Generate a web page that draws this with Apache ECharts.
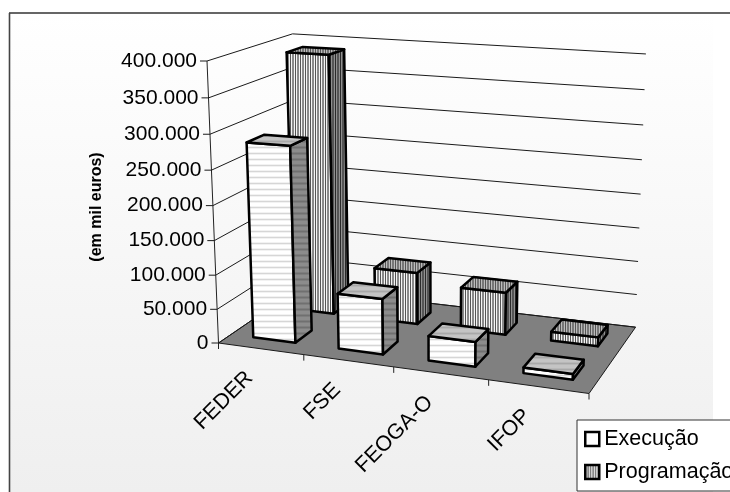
<!DOCTYPE html>
<html>
<head>
<meta charset="utf-8">
<style>html,body{margin:0;padding:0;background:#fff}#chart{width:730px;height:492px}</style>
<script src="https://cdn.jsdelivr.net/npm/echarts@6/dist/echarts.min.js"></script>
</head>
<body>
<div id="chart"></div>
<script>
const categories = ['FEDER', 'FSE', 'FEOGA-O', 'IFOP'];
const execucao = [283000, 80000, 35000, 8000];
const programacao = [388000, 78000, 63000, 13000];
const yTicks = [0, 50000, 100000, 150000, 200000, 250000, 300000, 350000, 400000];
const yTickLabels = ['0', '50.000', '100.000', '150.000', '200.000', '250.000', '300.000', '350.000', '400.000'];

const FONT = '"Liberation Sans", Arial, sans-serif';

// Perspective box: images of the box corners and their homogeneous weights.
const CAM = {
  origin: [218.5, 343], right: [589, 393.5], deep: [299, 288], up: [207, 61],
  wRight: 0.8973, wDeep: 1.115, wUp: 0.95, farSag: 6
};
function project(u, d, h) {
  const den = 1 + u * (CAM.wRight - 1) + d * (CAM.wDeep - 1) + h * (CAM.wUp - 1);
  const p = [0, 1].map(function (k) {
    const o = CAM.origin[k];
    return (o + u * (CAM.wRight * CAM.right[k] - o) + d * (CAM.wDeep * CAM.deep[k] - o) + h * (CAM.wUp * CAM.up[k] - o)) / den;
  });
  // The far upper corner of the box sits a little lower than a pure projection.
  p[1] += CAM.farSag * u * d * h;
  return p;
}
// Turns axis pixel positions into box coordinates, so scales stay owned by the axes.
function boxFromAxes(params, api, cat, val) {
  const p = api.coord([cat, val]);
  const c = params.coordSys;
  return { u: (p[0] - c.x) / c.width, h: (c.y + c.height - p[1]) / c.height };
}

function stripes(colors, vertical) {
  const cv = document.createElement('canvas');
  cv.width = vertical ? colors.length : 1;
  cv.height = vertical ? 1 : colors.length;
  const g = cv.getContext('2d');
  colors.forEach(function (col, i) {
    g.fillStyle = col;
    if (vertical) g.fillRect(i, 0, 1, 1); else g.fillRect(0, i, 1, 1);
  });
  return { image: cv, repeat: 'repeat' };
}

const FILLS = {
  exec: {
    front: stripes(['#fff', '#fff', '#f2f2f2', '#d6d6d6', '#f2f2f2', '#fff']),
    side: stripes(['#8c8c8c', '#8c8c8c', '#7e7e7e', '#707070', '#7e7e7e', '#8c8c8c']),
    top: stripes(['#c4c4c4', '#c4c4c4', '#b8b8b8', '#a8a8a8', '#b8b8b8', '#c4c4c4'])
  },
  prog: {
    front: stripes(['#555', '#f4f4f4', '#8a8a8a', '#888', '#f4f4f4'], true),
    side: stripes(['#2a2a2a', '#909090', '#555', '#555', '#909090'], true),
    top: stripes(['#555', '#bbb', '#777', '#777', '#bbb'], true)
  }
};

function barRenderer(fills, dFront, dBack) {
  return function (params, api) {
    const cat = api.value(0);
    const halfBar = api.size([1, 0])[0] * 0.25;
    const c = params.coordSys;
    const top = boxFromAxes(params, api, cat, api.value(1));
    const uL = top.u + 0.004 - halfBar / c.width;
    const uR = top.u + 0.004 + halfBar / c.width;
    const h = top.h;
    const poly = function (pts, fill) {
      return {
        type: 'polygon',
        shape: { points: pts },
        style: { fill: fill, stroke: '#000', lineWidth: 2.5, lineJoin: 'round' }
      };
    };
    return {
      type: 'group',
      children: [
        poly([project(uL, dFront, 0), project(uR, dFront, 0), project(uR, dFront, h), project(uL, dFront, h)], fills.front),
        poly([project(uR, dFront, 0), project(uR, dBack, 0), project(uR, dBack, h), project(uR, dFront, h)], fills.side),
        poly([project(uL, dFront, h), project(uR, dFront, h), project(uR, dBack, h), project(uL, dBack, h)], fills.top)
      ]
    };
  };
}

function renderFloor(params, api) {
  const children = [{
    type: 'polygon',
    shape: { points: [project(0, 0, 0), project(1, 0, 0), project(1, 1, 0), project(0, 1, 0)] },
    style: { fill: '#808080', stroke: '#1a1a1a', lineWidth: 1 }
  }];
  [0, 0.25, 0.5, 0.75, 1].forEach(function (u) {
    const p = project(u, 0, 0);
    children.push({
      type: 'line',
      shape: { x1: p[0], y1: p[1], x2: p[0], y2: p[1] + 6 },
      style: { stroke: '#222', lineWidth: 1 }
    });
  });
  const a = project(0, 0, 0), b = project(0, 0, 1);
  children.push({
    type: 'line',
    shape: { x1: a[0], y1: a[1], x2: b[0], y2: b[1] },
    style: { stroke: '#222', lineWidth: 1 }
  });
  return { type: 'group', children: children };
}

function renderTick(params, api) {
  const h = boxFromAxes(params, api, 0, api.value(1)).h;
  const a = project(0, 0, h), b = project(0, 1, h), r = project(1, 1, h);
  return {
    type: 'group',
    children: [
      { type: 'polyline', shape: { points: [[a[0] - 7, a[1]], a, b, r] }, style: { fill: null, stroke: '#1a1a1a', lineWidth: 1 } },
      {
        type: 'text',
        x: a[0] - 10, y: a[1],
        style: { text: yTickLabels[params.dataIndex], font: '21px ' + FONT, fill: '#000', textAlign: 'right', textVerticalAlign: 'middle' }
      }
    ]
  };
}

function renderCategory(params, api) {
  const b = boxFromAxes(params, api, api.value(0), 0);
  const p = project(b.u, 0, 0);
  return {
    type: 'text',
    x: p[0] - 11, y: p[1] + 26,
    rotation: Math.PI / 4,
    style: { text: categories[params.dataIndex], font: '21.5px ' + FONT, fill: '#000', textAlign: 'right', textVerticalAlign: 'middle' }
  };
}

const chart = echarts.init(document.getElementById('chart'), null, { renderer: 'canvas' });
chart.setOption({
  animation: false,
  backgroundColor: '#fff',
  grid: { left: 218.5, top: 61, width: 370.5, height: 282 },
  xAxis: { type: 'category', data: categories, show: false },
  yAxis: {
    type: 'value', min: 0, max: 400000, interval: 50000,
    name: '(em mil euros)', nameLocation: 'middle', nameGap: 114, nameRotate: 90,
    nameTextStyle: { fontFamily: FONT, fontSize: 16, fontWeight: 'bold', color: '#000', padding: [0, 10, 0, 0] },
    axisLine: { show: false }, axisTick: { show: false }, axisLabel: { show: false }, splitLine: { show: false }
  },
  legend: {
    left: 577, top: 420, orient: 'vertical', selectedMode: false,
    padding: [8, 12, 8, 7], itemGap: 11, itemWidth: 14, itemHeight: 14,
    backgroundColor: '#fff', borderColor: '#333', borderWidth: 1,
    textStyle: { fontFamily: FONT, fontSize: 21.5, color: '#000' },
    data: [
      { name: 'Execução', icon: 'rect', itemStyle: { color: '#fff', borderColor: '#000', borderWidth: 2.5 } },
      { name: 'Programação', icon: 'rect', itemStyle: { color: FILLS.prog.front, borderColor: '#000', borderWidth: 2.5 } }
    ]
  },
  graphic: [
    {
      type: 'rect', z: -10, silent: true,
      shape: { x: 10, y: 13, width: 703, height: 479 },
      style: { fill: new echarts.graphic.LinearGradient(0, 0, 0, 1, [{ offset: 0, color: '#ffffff' }, { offset: 1, color: '#efefef' }]) }
    },
    { type: 'line', z: -9, silent: true, shape: { x1: 9, y1: 13, x2: 730, y2: 13 }, style: { stroke: '#333', lineWidth: 1.6 } },
    { type: 'line', z: -9, silent: true, shape: { x1: 9.5, y1: 13, x2: 9.5, y2: 492 }, style: { stroke: '#444', lineWidth: 1.6 } }
  ],
  series: [
    { type: 'custom', name: 'chão', silent: true, z: 1, renderItem: renderFloor, data: [[0, 0]], encode: { x: 0, y: 1 } },
    { type: 'custom', name: 'grelha', silent: true, z: 2, renderItem: renderTick, data: yTicks.map(function (v) { return [0, v]; }), encode: { x: 0, y: 1 } },
    { type: 'custom', name: 'categorias', silent: true, z: 2, renderItem: renderCategory, data: categories.map(function (c, i) { return [i, 0]; }), encode: { x: 0, y: 1 } },
    { type: 'custom', name: 'Programação', silent: true, z: 3, renderItem: barRenderer(FILLS.prog, 0.645, 0.85), data: programacao.map(function (v, i) { return [i, v]; }), encode: { x: 0, y: 1 } },
    { type: 'custom', name: 'Execução', silent: true, z: 4, renderItem: barRenderer(FILLS.exec, 0.145, 0.35), data: execucao.map(function (v, i) { return [i, v]; }), encode: { x: 0, y: 1 } }
  ]
});
</script>
</body>
</html>
